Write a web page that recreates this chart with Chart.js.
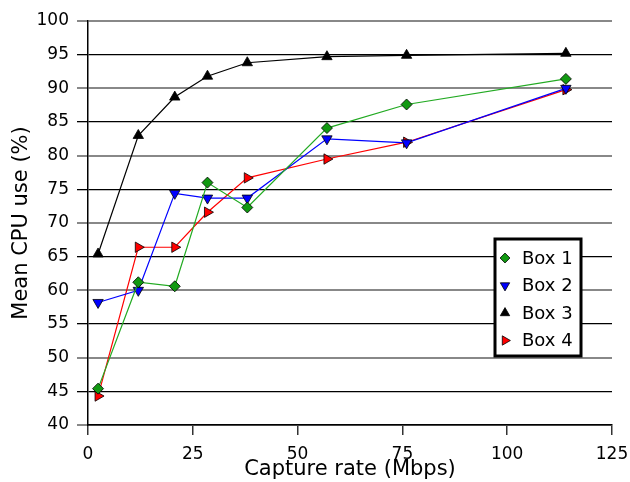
<!DOCTYPE html>
<html>
<head>
<meta charset="utf-8">
<script src="https://cdn.jsdelivr.net/npm/chart.js@4"></script>
<style>
  html, body { margin: 0; padding: 0; background: #fff; }
  #wrap { width: 630px; height: 482px; }
</style>
</head>
<body>
<div id="wrap"><canvas id="cpuChart" width="630" height="482"></canvas></div>
<script>
// Mean CPU use vs capture rate, four capture boxes
const FONT = "'DejaVu Sans', sans-serif";

const captureRate = [2.4, 12, 20.7, 28.5, 38, 57, 76, 114];
const seriesNames = ["Box 1", "Box 2", "Box 3", "Box 4"];
const box1 = [45.4, 61.2, 60.6, 76.0, 72.3, 84.1, 87.6, 91.4];
const box2 = [58.2, 60.0, 74.4, 73.7, 73.7, 82.5, 81.9, 90.0];
const box3 = [65.4, 83.0, 88.7, 91.8, 93.8, 94.7, 94.9, 95.2];
const box4 = [44.3, 66.4, 66.4, 71.6, 76.7, 79.5, 82.0, 89.8];

const STYLES = [
  { line: "#22aa22", fill: "#119911", point: "rectRot", radius: 5.5, rotation: 0 },
  { line: "#0000ff", fill: "#0000ff", point: "triangle", radius: 6, rotation: 180 },
  { line: "#000000", fill: "#000000", point: "triangle", radius: 6, rotation: 0 },
  { line: "#ff0000", fill: "#ff0000", point: "triangle", radius: 6, rotation: 90 },
];

function toPoints(ys) {
  return ys.map((y, i) => ({ x: captureRate[i], y }));
}

const datasets = [box1, box2, box3, box4].map((ys, i) => ({
  label: seriesNames[i],
  data: toPoints(ys),
  borderColor: STYLES[i].line,
  borderWidth: 1.2,
  backgroundColor: STYLES[i].fill,
  pointStyle: STYLES[i].point,
  pointRadius: STYLES[i].radius,
  pointRotation: STYLES[i].rotation,
  pointBackgroundColor: STYLES[i].fill,
  pointBorderColor: "#000",
  pointBorderWidth: 0.8,
  tension: 0,
}));

// boxed legend in the lower right of the plot
const boxLegend = {
  id: "boxLegend",
  afterDraw(chart) {
    const { ctx } = chart;
    const left = 495, top = 239, w = 86, h = 117;
    ctx.save();
    ctx.fillStyle = "#fff";
    ctx.fillRect(left, top, w, h);
    ctx.lineWidth = 3;
    ctx.strokeStyle = "#000";
    ctx.strokeRect(left, top, w, h);
    ctx.font = "18px " + FONT;
    ctx.textBaseline = "middle";
    chart.data.datasets.forEach((ds, i) => {
      const y = top + 19 + i * 27.5;
      ctx.fillStyle = ds.pointBackgroundColor;
      ctx.strokeStyle = "#000";
      ctx.lineWidth = 0.8;
      Chart.helpers.drawPoint(ctx, {
        pointStyle: ds.pointStyle,
        rotation: ds.pointRotation,
        radius: ds.pointRadius * 0.9,
        borderWidth: 0.8,
      }, left + 10, y);
      ctx.fillStyle = "#000";
      ctx.fillText(ds.label, left + 27, y + 1);
    });
    ctx.restore();
  },
};

new Chart(document.getElementById("cpuChart"), {
  type: "line",
  data: { datasets },
  options: {
    responsive: false,
    animation: false,
    layout: { padding: { top: 21, right: 18, left: 0, bottom: 0 } },
    plugins: {
      legend: { display: false },
      tooltip: { enabled: false },
    },
    scales: {
      x: {
        type: "linear",
        min: 0,
        max: 125,
        ticks: { stepSize: 25, color: "#000", font: { family: FONT, size: 17 }, padding: 9, maxRotation: 0 },
        grid: { drawOnChartArea: false, drawTicks: true, tickLength: 10, color: "#333", lineWidth: 1.5 },
        border: { color: "#000", width: 1.5 },
        title: {
          display: true,
          text: "Capture rate (Mbps)",
          color: "#000",
          font: { family: FONT, size: 21 },
          padding: { top: 0, bottom: 0 },
        },
        afterFit(scale) {
          scale.height = 57;
          scale.paddingLeft = 0;
          scale.paddingRight = 0;
        },
      },
      y: {
        min: 40,
        max: 100,
        ticks: { stepSize: 5, color: "#000", font: { family: FONT, size: 17 }, padding: 8 },
        grid: {
          drawTicks: true,
          tickLength: 11,
          color: (c) => (c.tick && c.tick.value % 10 === 0 ? "#888" : "#000"),
          lineWidth: (c) => (c.tick && c.tick.value % 10 === 0 ? 2 : 1.3),
        },
        border: { color: "#000", width: 1.5 },
        title: {
          display: true,
          text: "Mean CPU use (%)",
          color: "#000",
          font: { family: FONT, size: 21 },
          padding: { top: 9, bottom: 0 },
        },
        afterFit(scale) {
          scale.width = 88;
          scale.paddingTop = 0;
          scale.paddingBottom = 0;
        },
      },
    },
  },
  plugins: [boxLegend],
});
</script>
</body>
</html>
